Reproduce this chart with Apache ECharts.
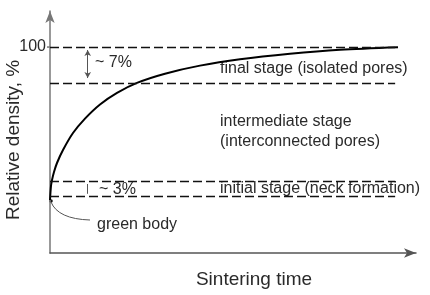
<!DOCTYPE html>
<html><head><meta charset="utf-8">
<script src="https://cdn.jsdelivr.net/npm/echarts@6/dist/echarts.min.js"></script>
<style>html,body{margin:0;padding:0;background:#fff}#c{width:430px;height:295px}</style>
</head><body><div id="c"></div>
<script>
// Data
const curveTime = [0, 0.27, 0.55, 1.09, 1.91, 3.55, 6.28, 9.56, 13.66, 18.31, 23.77, 31.42, 40.98, 51.91, 65.57, 79.23, 95.08];
const curveDensity = [70.29, 73.01, 74.17, 75.73, 77.48, 80.00, 83.30, 86.10, 88.85, 91.11, 93.05, 94.83, 96.39, 97.63, 98.70, 99.48, 99.98];
const stageLevels = [100, 93, 74, 71];
const stageLineEnd = 94.3;
const yTickLabels = ['100'];
const finalSpan = [99.42, 93.98];
const initialSpan = [73.4, 71.5];
const spanTime = 10.3;

const font = '"Liberation Sans", Arial, sans-serif';
const txtColor = '#2a2a2a';

const chart = echarts.init(document.getElementById('c'), null, {renderer: 'canvas'});
const dashStyle = {color: '#111', width: 1.4, type: [9, 4]};

const markData = stageLevels.map(v => [
  {coord: [0, v], lineStyle: dashStyle},
  {coord: [stageLineEnd, v]}
]);
markData.push([
  {coord: [spanTime, finalSpan[0]], lineStyle: {color: '#555', width: 1, type: 'solid'}, symbol: 'arrow'},
  {coord: [spanTime, finalSpan[1]], symbol: 'arrow'}
]);
markData.push([
  {coord: [spanTime, initialSpan[0]], lineStyle: {color: '#555', width: 1, type: 'solid'}, symbol: 'none'},
  {coord: [spanTime, initialSpan[1]], symbol: 'none'}
]);

chart.setOption({
  animation: false,
  grid: {left: 50, right: 14, top: 11, bottom: 42},
  xAxis: {
    type: 'value', min: 0, max: 100,
    axisLine: {show: true, onZero: false, symbol: ['none', 'arrow'], symbolSize: [7, 12], lineStyle: {color: '#555', width: 1.5}},
    axisTick: {show: false}, axisLabel: {show: false}, splitLine: {show: false}
  },
  yAxis: {
    type: 'value', min: 60, max: 107, interval: 10,
    axisLine: {show: true, onZero: false, symbol: ['none', 'arrow'], symbolSize: [7, 12], lineStyle: {color: '#777', width: 1.5}},
    axisTick: {show: false},
    axisLabel: {show: true, margin: 4, fontFamily: font, fontSize: 16, color: txtColor,
      formatter: v => yTickLabels.includes(String(v)) ? String(v) : ''},
    splitLine: {show: false}
  },
  series: [{
    type: 'line',
    data: curveTime.map((t, i) => [t, curveDensity[i]]),
    smooth: 0.3, symbol: 'none',
    lineStyle: {color: '#000', width: 2},
    markLine: {silent: true, symbol: 'none', symbolSize: [5, 6], label: {show: false}, data: markData}
  }]
});

const p100 = chart.convertToPixel({gridIndex: 0}, [0, 100]);
const pGreen = chart.convertToPixel({gridIndex: 0}, [curveTime[0], curveDensity[0]]);
chart.setOption({
  graphic: [
    {type: 'line', shape: {x1: p100[0] - 3, y1: p100[1], x2: p100[0], y2: p100[1]}, style: {stroke: '#555', lineWidth: 1.2}},
    {type: 'circle', shape: {cx: pGreen[0] + 1, cy: pGreen[1] + 1, r: 1.8}, style: {fill: '#111'}},
    {type: 'bezierCurve', shape: {x1: pGreen[0] + 1, y1: pGreen[1] + 2, cpx1: pGreen[0] + 8, cpy1: pGreen[1] + 19, x2: 90, y2: 220}, style: {stroke: '#555', lineWidth: 1, fill: null}},
    {type: 'text', x: 14, y: 140, rotation: Math.PI / 2, style: {text: 'Relative density, %', font: '19px ' + font, fill: txtColor, align: 'center', verticalAlign: 'middle'}},
    {type: 'text', x: 254, y: 280, style: {text: 'Sintering time', font: '19px ' + font, fill: txtColor, align: 'center', verticalAlign: 'middle'}},
    {type: 'text', x: 95, y: 63, style: {text: '~ 7%', font: '16px ' + font, fill: txtColor, verticalAlign: 'middle'}},
    {type: 'text', x: 99, y: 190, style: {text: '~ 3%', font: '16px ' + font, fill: txtColor, verticalAlign: 'middle'}},
    {type: 'text', x: 97, y: 225, style: {text: 'green body', font: '16px ' + font, fill: txtColor, verticalAlign: 'middle'}},
    {type: 'text', x: 220, y: 69, style: {text: 'final stage (isolated pores)', font: '16px ' + font, fill: txtColor, verticalAlign: 'middle'}},
    {type: 'text', x: 220, y: 122, style: {text: 'intermediate stage', font: '16px ' + font, fill: txtColor, verticalAlign: 'middle'}},
    {type: 'text', x: 220, y: 142, style: {text: '(interconnected pores)', font: '16px ' + font, fill: txtColor, verticalAlign: 'middle'}},
    {type: 'text', x: 220, y: 189, style: {text: 'initial stage (neck formation)', font: '16px ' + font, fill: txtColor, verticalAlign: 'middle'}}
  ]
});
</script></body></html>
